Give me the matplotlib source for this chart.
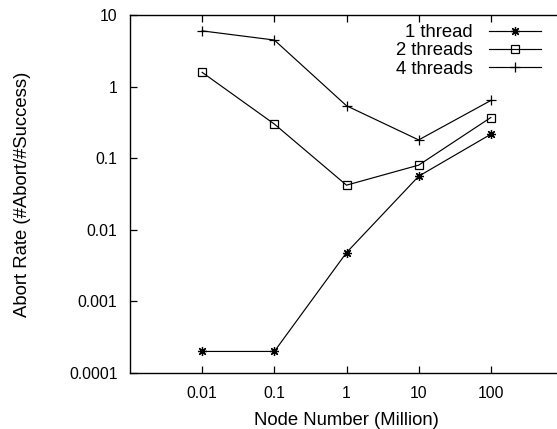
import matplotlib
matplotlib.use("Agg")
import matplotlib.pyplot as plt

# Valeurs (echelle log-log)
nodes = [0.01, 0.1, 1, 10, 100]
abort_1 = [0.0002, 0.0002, 0.0048, 0.056, 0.216]
abort_2 = [1.58, 0.30, 0.042, 0.080, 0.37]
abort_4 = [6.0, 4.47, 0.54, 0.18, 0.64]

xticks = [0.01, 0.1, 1, 10, 100]
xtick_labels = ["0.01", "0.1", "1", "10", "100"]
yticks = [0.0001, 0.001, 0.01, 0.1, 1, 10]
ytick_labels = ["0.0001", "0.001", "0.01", "0.1", "1", "10"]

plt.rcParams["font.family"] = ["Liberation Sans", "DejaVu Sans"]

W, H = 557, 429
fig = plt.figure(figsize=(W / 100, H / 100), dpi=100)
# axe droit volontairement hors cadre (x jusqu'a 1000)
ax = fig.add_axes([130 / W, 1 - 373 / H, (563 - 130) / W, (373 - 15) / H])

kw = dict(color="black", lw=0.85, mew=0.9)
ax.plot(nodes, abort_1, marker=(8, 2, 0), ms=6.5, label="1 thread", **kw)
ax.plot(nodes, abort_2, marker="s", ms=6, mfc="none", label="2 threads", **kw)
ax.plot(nodes, abort_4, marker="+", ms=7, label="4 threads", **kw)

ax.set_xscale("log")
ax.set_yscale("log")
ax.set_xlim(0.001, 1000)
ax.set_ylim(0.0001, 10)
ax.set_xticks(xticks, xtick_labels)
ax.set_yticks(yticks, ytick_labels)
ax.minorticks_off()
ax.tick_params(direction="in", length=5, width=0.9, top=True, right=False,
               labelsize=11.3, pad=9, colors="black")
for s in ax.spines.values():
    s.set_linewidth(1.0)

ax.set_xlabel("Node Number (Million)", fontsize=13.3, labelpad=8)
ax.set_ylabel("Abort Rate (#Abort/#Success)", fontsize=13.3, labelpad=27)

ax.legend(loc="upper right", bbox_to_anchor=(541 / W, 1 - 24 / H),
          bbox_transform=fig.transFigure, frameon=False, markerfirst=False,
          fontsize=13.3, handlelength=2.8, handletextpad=0.9,
          labelspacing=0.08, borderpad=0, borderaxespad=0)

fig.savefig("out.png", dpi=100)
